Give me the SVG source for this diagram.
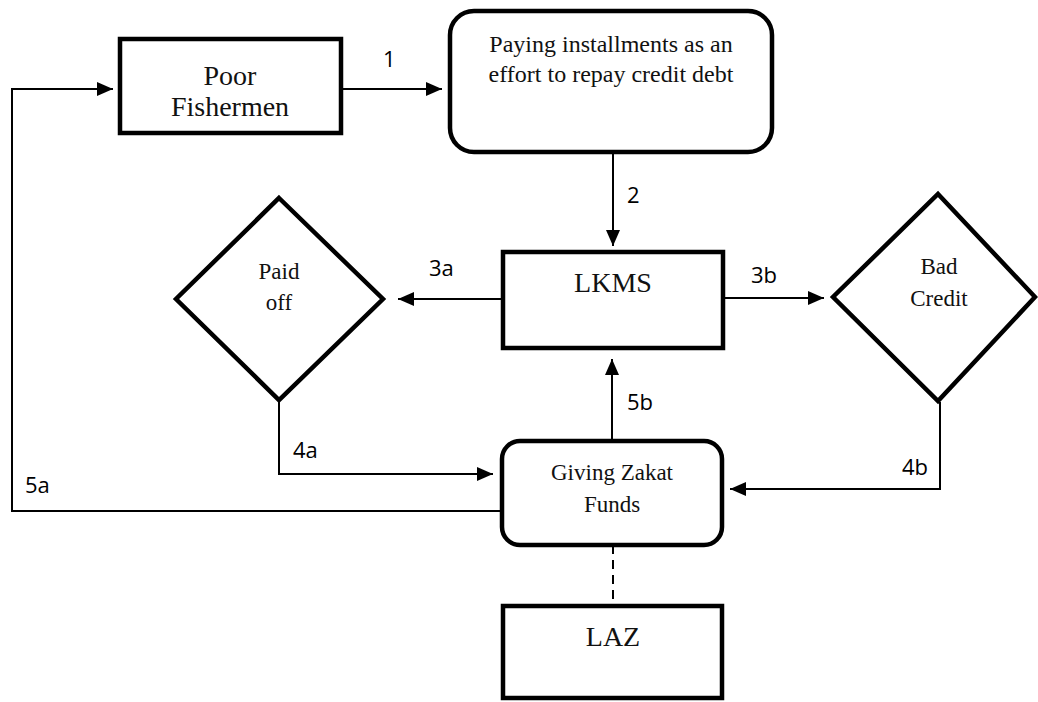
<svg xmlns="http://www.w3.org/2000/svg" width="1038" height="702" viewBox="0 0 1038 702">
  <style>
    .box { fill: #ffffff; stroke: #000000; stroke-width: 4.5; }
    .node-text { font-family: "Liberation Serif", "Times New Roman", serif; fill: #111111; text-anchor: middle; }
    .edge { fill: none; stroke: #000000; stroke-width: 2; }
    .edge-label { font-family: "Open Sans", "Noto Sans", sans-serif; font-size: 22px; fill: #000000; }
  </style>
  <defs>
    <marker id="arrow" markerUnits="userSpaceOnUse" markerWidth="16" markerHeight="14" refX="16" refY="7" orient="auto">
      <path d="M0,0 L16,7 L0,14 z" fill="#000000"/>
    </marker>
  </defs>

  <!-- connectors -->
  <g id="connectors">
    <line class="edge" x1="343" y1="89" x2="442" y2="89" marker-end="url(#arrow)"/>
    <line class="edge" x1="613" y1="152" x2="613" y2="246" marker-end="url(#arrow)"/>
    <line class="edge" x1="502" y1="299" x2="398" y2="299" marker-end="url(#arrow)"/>
    <line class="edge" x1="723" y1="298" x2="824" y2="298" marker-end="url(#arrow)"/>
    <polyline class="edge" points="279,401 279,474 493,474" marker-end="url(#arrow)"/>
    <polyline class="edge" points="940,402 940,489 730,489" marker-end="url(#arrow)"/>
    <line class="edge" x1="612" y1="441" x2="612" y2="359" marker-end="url(#arrow)"/>
    <polyline class="edge" points="502,511 12,511 12,89 113,89" marker-end="url(#arrow)"/>
    <line class="edge" x1="613" y1="545" x2="613" y2="605" stroke-dasharray="9,6"/>

    <text class="edge-label" x="383" y="67">1</text>
    <text class="edge-label" x="627" y="203">2</text>
    <text class="edge-label" x="429" y="276">3a</text>
    <text class="edge-label" x="751" y="283">3b</text>
    <text class="edge-label" x="293" y="458">4a</text>
    <text class="edge-label" x="902" y="475">4b</text>
    <text class="edge-label" x="25" y="493">5a</text>
    <text class="edge-label" x="627" y="410">5b</text>
  </g>

  <g id="poor-fishermen">
    <rect class="box" x="120" y="39" width="221" height="94"/>
    <text class="node-text" x="230" y="85" font-size="28">Poor</text>
    <text class="node-text" x="230" y="116" font-size="28">Fishermen</text>
  </g>

  <g id="paying-installments">
    <rect class="box" x="450" y="11" width="322" height="141" rx="24" ry="24"/>
    <text class="node-text" x="611" y="52" font-size="24">Paying installments as an</text>
    <text class="node-text" x="611" y="82" font-size="24">effort to repay credit debt</text>
  </g>

  <g id="lkms">
    <rect class="box" x="503" y="252" width="220" height="96"/>
    <text class="node-text" x="613" y="292" font-size="28">LKMS</text>
  </g>

  <g id="paid-off">
    <polygon class="box" points="279,198 383,299 279,400 176,299"/>
    <text class="node-text" x="279" y="279" font-size="23">Paid</text>
    <text class="node-text" x="279" y="310" font-size="23">off</text>
  </g>

  <g id="bad-credit">
    <polygon class="box" points="938,194 1035,297 938,401 833,297"/>
    <text class="node-text" x="939" y="274" font-size="23">Bad</text>
    <text class="node-text" x="939" y="306" font-size="23">Credit</text>
  </g>

  <g id="giving-zakat-funds">
    <rect class="box" x="502" y="441" width="220" height="104" rx="18" ry="18"/>
    <text class="node-text" x="612" y="480" font-size="23">Giving Zakat</text>
    <text class="node-text" x="612" y="512" font-size="23">Funds</text>
  </g>

  <g id="laz">
    <rect class="box" x="503" y="606" width="219" height="92"/>
    <text class="node-text" x="613" y="646" font-size="28">LAZ</text>
  </g>
</svg>
